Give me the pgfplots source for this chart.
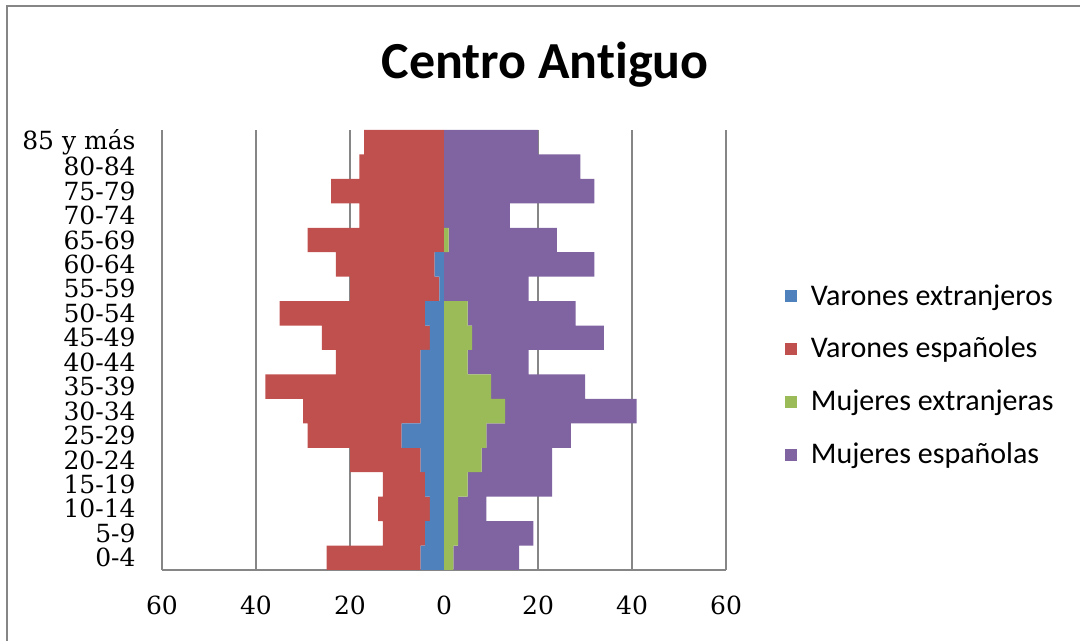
\documentclass[border=0pt]{standalone}
\usepackage{fontspec}
\usepackage{pgfplots}
\usepackage{pgfplotstable}
\pgfplotsset{compat=1.18}
\setmainfont{Carlito}[Ligatures=NoCommon]
\newfontfamily\tickfont{DejaVu Serif}

\definecolor{vext}{HTML}{4F81BD}
\definecolor{vesp}{HTML}{C0504D}
\definecolor{mext}{HTML}{9BBB59}
\definecolor{mesp}{HTML}{8064A2}
\definecolor{gridc}{RGB}{134,134,134}

% B = varones extranjeros, R = varones espanoles, G = mujeres extranjeras, P = mujeres espanolas
\pgfplotstableread{
pos B R G P
0 5 20 2 14
1 4 9 3 16
2 3 11 3 6
3 4 9 5 18
4 5 15 8 15
5 9 20 9 18
6 5 25 13 28
7 5 33 10 20
8 5 18 5 13
9 3 23 6 28
10 4 31 5 23
11 1 19 0 18
12 2 21 0 32
13 0 29 1 23
14 0 18 0 14
15 0 24 0 32
16 0 18 0 29
17 0 17 0 20
}\datos

\begin{document}
\begin{tikzpicture}
\path[use as bounding box] (0,0) rectangle (540pt,320.5pt);
\draw[gridc, line width=0.8pt] (3.5pt,0) -- (3.5pt,317.5pt) -- (540pt,317.5pt);
\node[font=\fontsize{26}{30}\selectfont\bfseries] at (272.5pt,288pt) {Centro Antiguo};

\pgfplotsset{pyr/.style={
  scale only axis, width=282pt, height=220pt,
  at={(81pt,35.5pt)}, anchor=south west,
  xmin=-60, xmax=60, ymin=-0.5, ymax=17.5,
  xbar stacked, bar width=1,
}}

\begin{axis}[pyr,
  axis x line*=bottom, axis y line*=left,
  axis line style={gridc, line width=0.8pt, -},
  xmajorgrids, grid style={gridc, line width=0.8pt},
  xtick={-60,-40,...,60}, xticklabels={60,40,20,0,20,40,60},
  ytick={0,...,17},
  yticklabels={0-4,5-9,10-14,15-19,20-24,25-29,30-34,35-39,40-44,45-49,50-54,55-59,60-64,65-69,70-74,75-79,80-84,85 y más},
  major tick length=0pt,
  tick label style={font=\tickfont\fontsize{12.5}{12.5}\selectfont},
  xticklabel style={anchor=north, inner sep=0pt, yshift=-13pt},
  yticklabel style={anchor=east, inner sep=0pt, xshift=-13pt},
]
\addplot[fill=vext, draw=none] table[x expr=-\thisrow{B}, y=pos]{\datos};
\addplot[fill=vesp, draw=none] table[x expr=-\thisrow{R}, y=pos]{\datos};
\end{axis}

\begin{axis}[pyr, hide axis,
  legend image code/.code={\fill[#1] (0pt,-3pt) rectangle (6pt,3pt);},
  legend cell align=left,
  legend style={at={(1.093,0.668)}, anchor=north west, draw=none, fill=none,
    font=\fontsize{15}{15}\selectfont, row sep=10.5pt, column sep=5pt},
]
\addlegendimage{fill=vext, draw=none}
\addlegendimage{fill=vesp, draw=none}
\addplot[fill=mext, draw=none] table[x=G, y=pos]{\datos};
\addplot[fill=mesp, draw=none] table[x=P, y=pos]{\datos};
\legend{Varones extranjeros, Varones españoles, Mujeres extranjeras, Mujeres españolas}
\end{axis}
\end{tikzpicture}
\end{document}
